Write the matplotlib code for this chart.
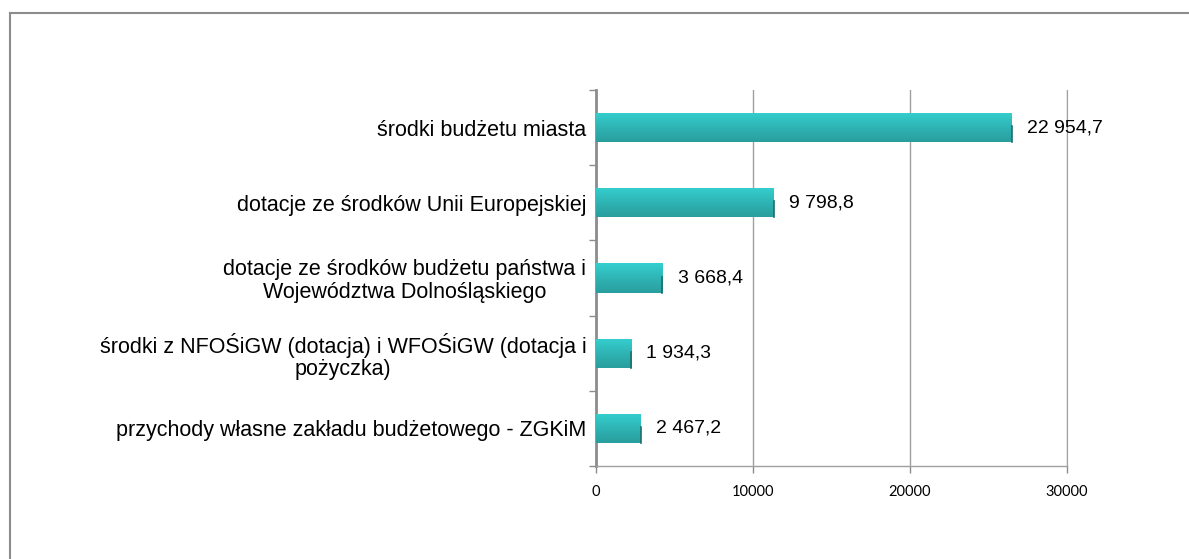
import matplotlib.pyplot as plt
import numpy as np
from matplotlib.lines import Line2D
from matplotlib.colors import LinearSegmentedColormap

categories = [
    "przychody własne zakładu budżetowego - ZGKiM",
    "środki z NFOŚiGW (dotacja) i WFOŚiGW (dotacja i\npożyczka)",
    "dotacje ze środków budżetu państwa i\nWojewództwa Dolnośląskiego",
    "dotacje ze środków Unii Europejskiej",
    "środki budżetu miasta",
]
values = [2467.2, 1934.3, 3668.4, 9798.8, 22954.7]
value_labels = ["2 467,2", "1 934,3", "3 668,4", "9 798,8", "22 954,7"]
xticks = [0, 10000, 20000, 30000]

plt.rcParams['font.family'] = ['Liberation Sans', 'DejaVu Sans']

fig = plt.figure(figsize=(11.89, 5.59), dpi=100)
ax = fig.add_axes([0.5013, 0.1664, 0.3961, 0.6726])

# ramka wykresu (widoczna tylko góra i lewa strona)
fig.add_artist(Line2D([10 / 1189, 1], [1 - 13 / 559, 1 - 13 / 559], color='#8c8c8c', lw=1.5))
fig.add_artist(Line2D([10 / 1189, 10 / 1189], [0, 1 - 13 / 559], color='#8c8c8c', lw=1.5))

y = np.arange(len(categories))

# słupki na osobnej osi - w oryginale skala słupków nie zgadza się z osią 0-30000
axb = ax.twiny()
bars = axb.barh(y, values, height=0.39, color='#30c0c0', edgecolor='none', zorder=2)

grad = np.linspace(0, 1, 64).reshape(-1, 1)
cmap = LinearSegmentedColormap.from_list('t', ['#2a9e9e', '#2fb4b4', '#35cfcf'])
for b in bars:
    x0, y0 = b.get_x(), b.get_y()
    w, h = b.get_width(), b.get_height()
    im = axb.imshow(grad, extent=[x0, x0 + w, y0, y0 + h], aspect='auto',
                    cmap=cmap, origin='lower', zorder=3)
    im.set_clip_path(b)
    axb.plot([x0 + w, x0 + w], [y0, y0 + h * 0.55], color='#1d6f6f', lw=1.2, zorder=4)

for yi, v, lab in zip(y, values, value_labels):
    axb.annotate(lab, (v, yi), xytext=(11, 0), textcoords='offset points',
                 va='center', ha='left', fontsize=14, color='black')

axb.set_xlim(0, 26000)
axb.xaxis.set_visible(False)
for s in axb.spines.values():
    s.set_visible(False)

ax.set_xlim(0, 30000)
ax.set_ylim(-0.5, len(categories) - 0.5)
axb.set_ylim(-0.5, len(categories) - 0.5)
ax.set_xticks(xticks)
ax.set_xticklabels([str(t) for t in xticks], fontsize=10.5, family=['Lato', 'DejaVu Sans'])
ax.set_yticks(y)
ax.set_yticklabels(categories, fontsize=15.5, ha='right', multialignment='center',
                   linespacing=1.1)
ax.tick_params(axis='y', length=0, pad=7)
ax.set_yticks(np.arange(-0.5, len(categories)), minor=True)
ax.tick_params(axis='y', which='minor', length=5, color='#8c8c8c', width=1)
ax.tick_params(axis='x', length=5, color='#8c8c8c', width=1, pad=9)

ax.grid(True, axis='x', color='#a0a0a0', lw=1, zorder=0)
ax.set_axisbelow(True)
ax.spines['top'].set_visible(False)
ax.spines['right'].set_color('#a0a0a0')
ax.spines['left'].set_color('#8c8c8c')
ax.spines['left'].set_linewidth(2)
ax.spines['bottom'].set_color('#a0a0a0')
ax.spines['bottom'].set_linewidth(1)

fig.savefig('out.png', dpi=100, facecolor='white')
